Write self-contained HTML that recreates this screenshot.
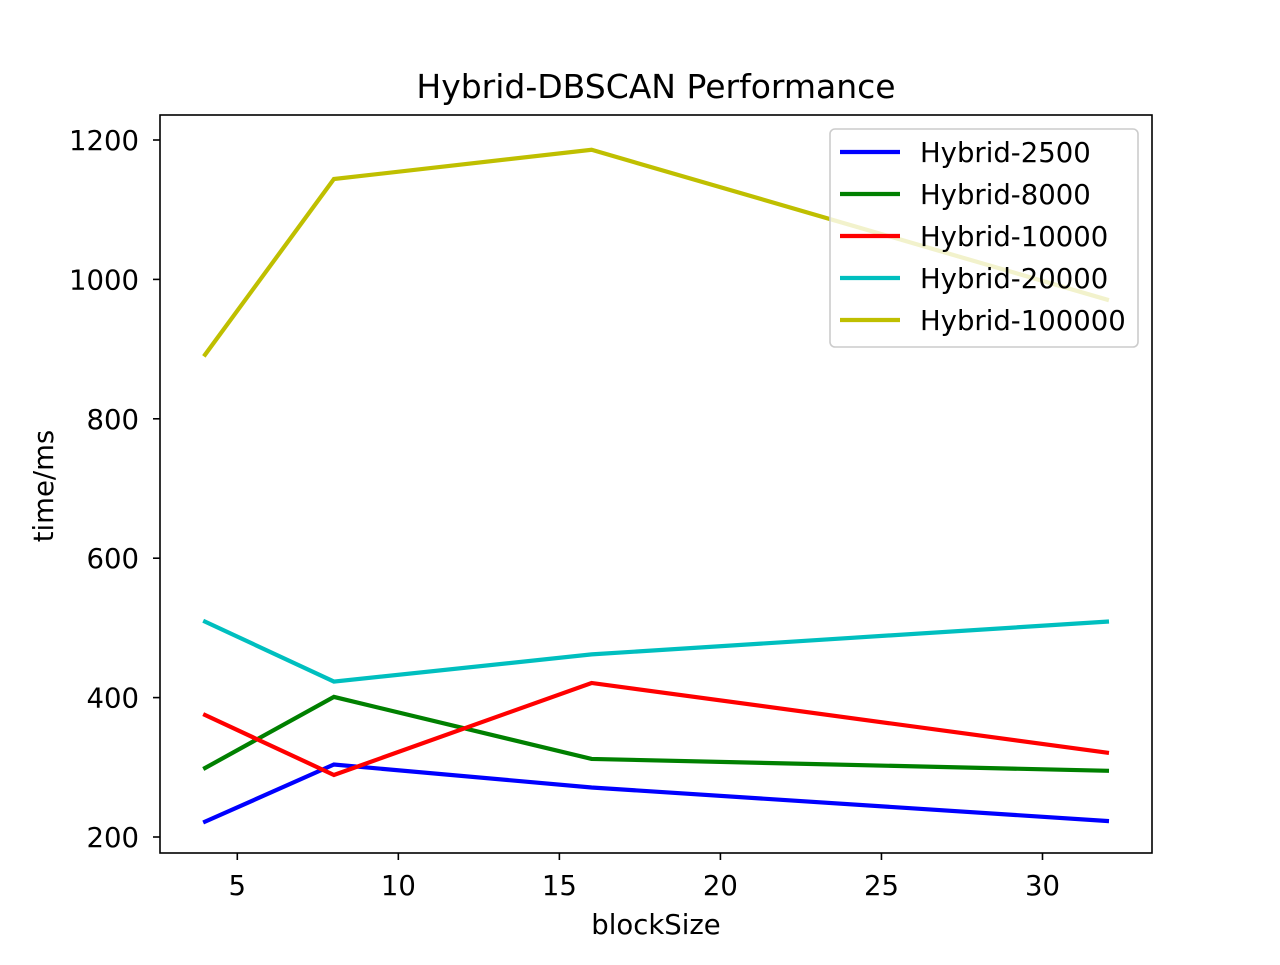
<!DOCTYPE html>
<html><head><meta charset="utf-8"><style>
body{margin:0;background:#fff}
svg text{font-family:"DejaVu Sans","Liberation Sans",sans-serif;fill:#000}
</style></head><body>
<svg id="chart" width="1280" height="960" xmlns="http://www.w3.org/2000/svg">
<rect width="1280" height="960" fill="#fff"/>
<g id="plot"></g>
</svg>
<script>
const xValues=[4,8,16,32];
const seriesNames=["Hybrid-2500","Hybrid-8000","Hybrid-10000","Hybrid-20000","Hybrid-100000"];
const seriesColors=["#0000ff","#008000","#ff0000","#00bfbf","#bfbf00"];
const s2500=[222,304,271,223];
const s8000=[299,401,312,295];
const s10000=[375,289,421,321];
const s20000=[509,423,462,509];
const s100000=[892,1144,1186,971];
const xTicks=[5,10,15,20,25,30];
const yTicks=[200,400,600,800,1000,1200];
const allSeries=[s2500,s8000,s10000,s20000,s100000];
const L=160,R=1152,T=115,B=853;
const xs=x=>L+(x-2.6)*(R-L)/(33.4-2.6);
const ys=y=>837-(y-200)*0.697;
const NS="http://www.w3.org/2000/svg";
const g=document.getElementById('plot');
function mk(tag,attrs,parent){const e=document.createElementNS(NS,tag);for(const k in attrs)e.setAttribute(k,attrs[k]);(parent||g).appendChild(e);return e;}
allSeries.forEach((s,i)=>{
  const p=mk('polyline',{points:s.map((v,j)=>xs(xValues[j])+','+ys(v)).join(' '),fill:'none',stroke:seriesColors[i],'stroke-width':4.2,'stroke-linecap':'square'});
  
  
});
const fr=mk('rect',{x:L,y:T,width:R-L,height:B-T,fill:'none',stroke:'#000','stroke-width':1.6});


xTicks.forEach(t=>{
  const x=xs(t);
  mk('line',{x1:x,x2:x,y1:B,y2:B+7,stroke:'#000','stroke-width':1.6});
  const tx=mk('text',{x:x,y:B+42,'text-anchor':'middle','font-size':27.5});
  tx.textContent=t;
  
  
});
yTicks.forEach(t=>{
  const y=ys(t);
  mk('line',{x1:L-7,x2:L,y1:y,y2:y,stroke:'#000','stroke-width':1.6});
  const tx=mk('text',{x:L-21,y:y+10,'text-anchor':'end','font-size':27.5});
  tx.textContent=t;
  
  
});
const title=mk('text',{x:656,y:98,'text-anchor':'middle','font-size':33});
title.textContent='Hybrid-DBSCAN Performance';


const xl=mk('text',{x:656,y:934,'text-anchor':'middle','font-size':27.5});
xl.textContent='blockSize';


const yl=mk('text',{x:0,y:0,'text-anchor':'middle','font-size':27.5,transform:'translate(53,486) rotate(-90)'});
yl.textContent='time/ms';


const lg=mk('g',{});


mk('rect',{x:830,y:129,width:308,height:218,rx:5,fill:'#fff','fill-opacity':0.8,stroke:'#ccc','stroke-width':1.6},lg);
seriesNames.forEach((n,i)=>{
  const y=152+i*42;
  const e=mk('g',{},lg);
  
  
  mk('line',{x1:840,x2:900,y1:y,y2:y,stroke:seriesColors[i],'stroke-width':4.2},e);
  const t=mk('text',{x:920,y:y+10,'font-size':27.5},e);
  t.textContent=n;
});
</script>
</body></html>
